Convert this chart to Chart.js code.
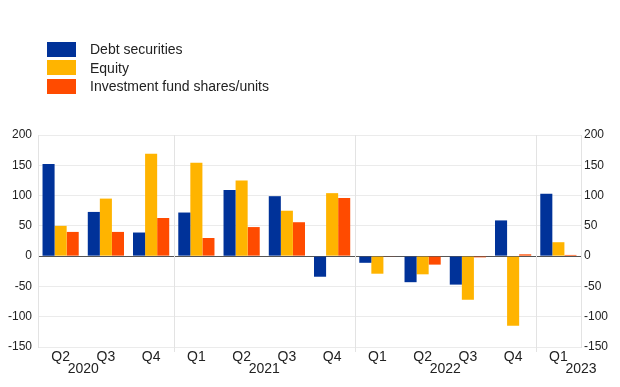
<!DOCTYPE html>
<html>
<head>
<meta charset="utf-8">
<script src="https://cdn.jsdelivr.net/npm/chart.js@4"></script>
<style>
	html, body { margin: 0; padding: 0; background: #fff; }
	#wrap { position: relative; width: 620px; height: 387px; }
	#legend { position: absolute; left: 47px; top: 40px; font: 14px "Liberation Sans", Arial, sans-serif; color: #222; }
	#legend .row { display: flex; align-items: center; height: 18.5px; }
	#legend .box { width: 29px; height: 15px; margin-right: 14px; }
</style>
</head>
<body>
<div id="wrap">
	<div id="legend"></div>
	<canvas id="chart" width="620" height="387"></canvas>
</div>
<script>
( function () {
	'use strict';

	// ── Data ─────────────────────────────────────────────────────────────
	var quarters = [ 'Q2', 'Q3', 'Q4', 'Q1', 'Q2', 'Q3', 'Q4', 'Q1', 'Q2', 'Q3', 'Q4', 'Q1' ];
	var years    = [ '2020', '2020', '2020', '2021', '2021', '2021', '2021', '2022', '2022', '2022', '2022', '2023' ];

	var debtSecurities = [ 152, 73, 39, 72, 109, 99, -34, -11, -43, -47, 59, 103 ];
	var equity         = [ 50, 95, 169, 154, 125, 75, 104, -29, -30, -72, -115, 23 ];
	var fundShares     = [ 40, 40, 63, 30, 48, 56, 96, -1, -14, -2, 3, 2 ];

	var yTicks = [ -150, -100, -50, 0, 50, 100, 150, 200 ];

	var FONT = '"Liberation Sans", Arial, sans-serif';
	var TEXT = '#222';

	var series = [
		{ label: 'Debt securities', data: debtSecurities, color: '#003299' },
		{ label: 'Equity', data: equity, color: '#ffb400' },
		{ label: 'Investment fund shares/units', data: fundShares, color: '#ff4b00' },
	];

	// ── Legend (HTML) ────────────────────────────────────────────────────
	var legend = document.getElementById( 'legend' );
	series.forEach( function ( s ) {
		var row = document.createElement( 'div' );
		row.className = 'row';
		var box = document.createElement( 'span' );
		box.className = 'box';
		box.style.background = s.color;
		var txt = document.createElement( 'span' );
		txt.textContent = s.label;
		row.appendChild( box );
		row.appendChild( txt );
		legend.appendChild( row );
	} );

	// ── Year separators and labels ───────────────────────────────────────
	var yearPlugin = {
		id: 'years',
		afterDatasetsDraw: function ( chart ) {
			var ctx = chart.ctx;
			var x = chart.scales.x;
			var area = chart.chartArea;
			var step = x.getPixelForValue( 1 ) - x.getPixelForValue( 0 );

			ctx.save();
			ctx.strokeStyle = '#e3e3e3';
			ctx.lineWidth = 1;
			for ( var i = 0; i < years.length - 1; i++ ) {
				if ( years[ i ] !== years[ i + 1 ] ) {
					var sx = Math.round( x.getPixelForValue( i ) + step / 2 ) + 0.5;
					ctx.beginPath();
					ctx.moveTo( sx, area.top );
					ctx.lineTo( sx, area.bottom + 5 );
					ctx.stroke();
				}
			}

			ctx.fillStyle = TEXT;
			ctx.font = '14px ' + FONT;
			ctx.textAlign = 'center';
			ctx.textBaseline = 'middle';
			var done = {};
			years.forEach( function ( y, idx ) {
				if ( done[ y ] ) {
					return;
				}
				done[ y ] = true;
				var q = parseInt( quarters[ idx ].slice( 1 ), 10 );
				var q1 = idx - ( q - 1 );
				var cx = x.getPixelForValue( q1 ) + 1.5 * step;
				cx = Math.min( cx, area.right );
				ctx.fillText( y, cx, 369 );
			} );
			ctx.restore();
		},
	};

	// ── Chart ────────────────────────────────────────────────────────────
	var yCommon = {
		min: -150,
		max: 200,
		afterBuildTicks: function ( scale ) {
			scale.ticks = yTicks.map( function ( v ) { return { value: v }; } );
		},
		ticks: { color: TEXT, font: { family: FONT, size: 12 } },
	};

	new Chart( document.getElementById( 'chart' ).getContext( '2d' ), {
		type: 'bar',
		data: {
			labels: quarters,
			datasets: series.map( function ( s ) {
				return {
					label: s.label,
					data: s.data,
					backgroundColor: s.color,
					borderWidth: 0,
					categoryPercentage: 0.8,
					barPercentage: 1,
				};
			} ),
		},
		options: {
			responsive: false,
			animation: false,
			layout: { padding: { top: 135, left: 0, right: 0, bottom: 0 } },
			plugins: {
				legend: { display: false },
				tooltip: { enabled: false },
			},
			scales: {
				x: {
					grid: { display: false, drawTicks: false },
					border: { display: false },
					ticks: { color: TEXT, padding: 2, font: { family: FONT, size: 14 }, maxRotation: 0 },
					afterFit: function ( scale ) { scale.height = 40; },
				},
				y: Object.assign( {}, yCommon, {
					position: 'left',
					grid: {
						drawTicks: false,
						color: function ( c ) { return c.tick && c.tick.value === 0 ? '#555' : '#ebebeb'; },
					},
					border: { color: '#e3e3e3' },
					ticks: Object.assign( {}, yCommon.ticks, { padding: 6 } ),
					afterFit: function ( scale ) { scale.width = 38; },
				} ),
				y2: Object.assign( {}, yCommon, {
					position: 'right',
					grid: { display: false, drawTicks: false },
					border: { color: '#e3e3e3' },
					ticks: Object.assign( {}, yCommon.ticks, { padding: 3 } ),
					afterFit: function ( scale ) { scale.width = 39; },
				} ),
			},
		},
		plugins: [ yearPlugin ],
	} );
} )();
</script>
</body>
</html>
